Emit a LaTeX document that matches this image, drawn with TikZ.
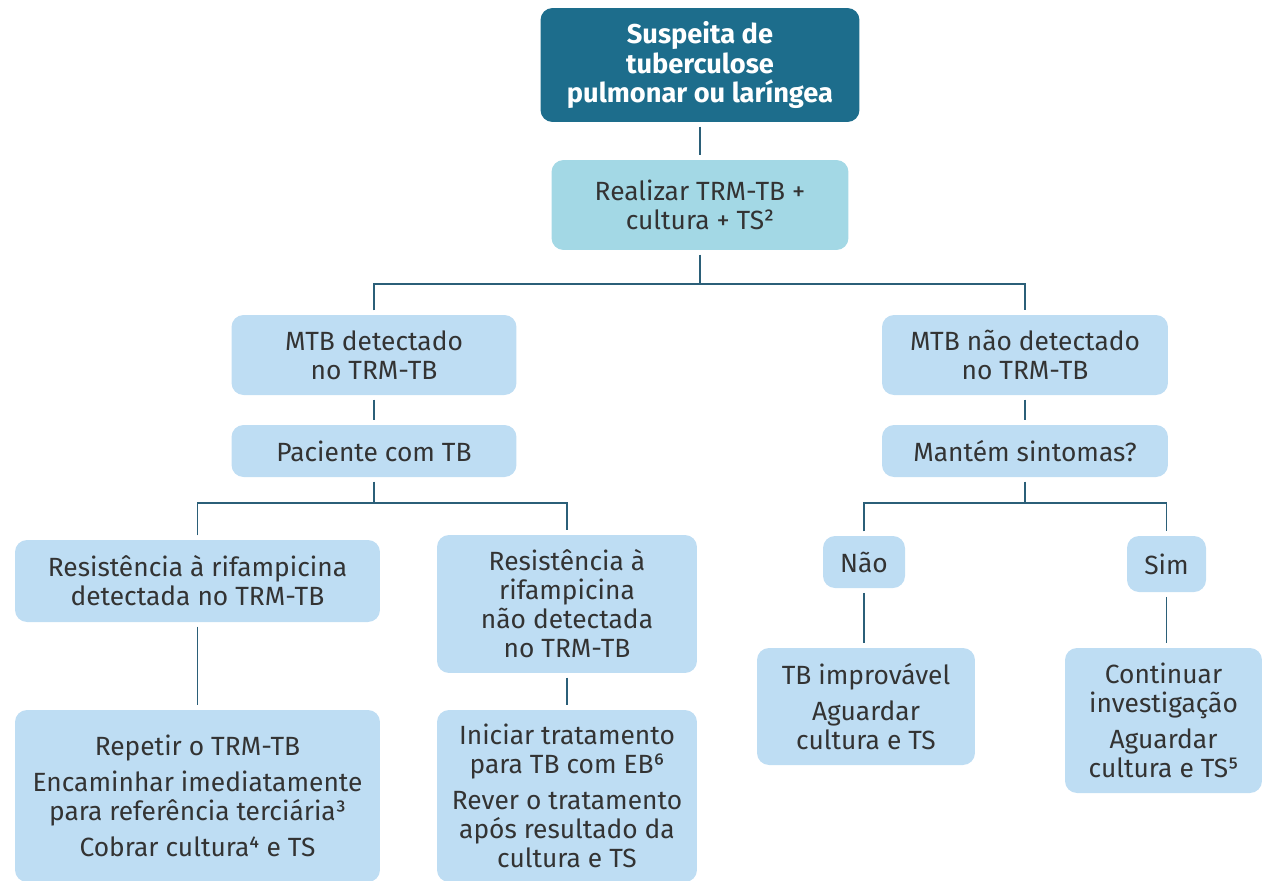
\documentclass[tikz,border=0pt]{standalone}
\usepackage{fontspec}
\setmainfont{Fira Sans}
\definecolor{azulesc}{HTML}{1D6D8C}
\definecolor{azulagua}{HTML}{A3D8E5}
\definecolor{azulclaro}{HTML}{BEDDF3}
\definecolor{linha}{HTML}{2B5F78}
\definecolor{texto}{HTML}{333333}
\tikzset{
	caixa/.style={rectangle,rounded corners=0.24cm,fill=azulclaro,text=texto,align=center,
		inner sep=0pt,font=\fontsize{15}{16.5}\selectfont},
	ligacao/.style={color=linha,line width=1.1pt,shorten <=2.5pt,shorten >=2.5pt},
}
\begin{document}
\begin{tikzpicture}[x=0.02cm,y=-0.02cm]
		\useasboundingbox (0,0) rectangle (1278,880);
		% Caixas
		\node[caixa,fill=azulesc,text=white,font=\bfseries\fontsize{15.5}{17}\selectfont,minimum width=6.38cm,minimum height=2.28cm] (suspeita) at (700,65) {Suspeita de\\tuberculose\\pulmonar ou laríngea};
		\node[caixa,fill=azulagua,minimum width=5.94cm,minimum height=1.8cm] (realizar) at (700,205) {Realizar TRM-TB +\\cultura + TS²};
		\node[caixa,minimum width=5.7cm,minimum height=1.6cm] (mtbd) at (374,355) {MTB detectado\\no TRM-TB};
		\node[caixa,minimum width=5.72cm,minimum height=1.6cm] (mtbn) at (1025,355) {MTB não detectado\\no TRM-TB};
		\node[caixa,minimum width=5.7cm,minimum height=1.04cm] (paciente) at (374,451) {Paciente com TB};
		\node[caixa,minimum width=5.72cm,minimum height=1.04cm] (mantem) at (1025,451) {Mantém sintomas?};
		\node[caixa,minimum width=7.3cm,minimum height=1.64cm] (resdet) at (197.5,581) {Resistência à rifampicina\\detectada no TRM-TB};
		\node[caixa,minimum width=5.2cm,minimum height=2.76cm] (resnao) at (567,604) {Resistência à\\rifampicina\\não detectada\\no TRM-TB};
		\node[caixa,minimum width=7.3cm,minimum height=3.44cm] (repetir) at (197.5,796) {Repetir o TRM-TB\\[4pt]Encaminhar imediatamente\\para referência terciária³\\[4pt]Cobrar cultura⁴ e TS};
		\node[caixa,minimum width=5.2cm,minimum height=3.44cm] (iniciar) at (567,796) {Iniciar tratamento\\para TB com EB⁶\\[4pt]Rever o tratamento\\após resultado da\\cultura e TS};
		\node[caixa,minimum width=1.64cm,minimum height=1.04cm] (nao) at (864,562) {Não};
		\node[caixa,minimum width=1.58cm,minimum height=1.12cm] (sim) at (1166.5,564) {Sim};
		\node[caixa,minimum width=4.36cm,minimum height=2.34cm] (improvavel) at (866,706.5) {TB improvável\\[4pt]Aguardar\\cultura e TS};
		\node[caixa,minimum width=3.94cm,minimum height=2.9cm] (continuar) at (1163.5,720.5) {Continuar\\investigação\\[4pt]Aguardar\\cultura e TS⁵};

		% Ligacoes
		\coordinate (j1) at (700,284);
		\coordinate (j2) at (374,503);
		\coordinate (j3) at (1025,503);
		\draw[ligacao] (suspeita.south) -- (suspeita.south |- realizar.north);
		\draw[ligacao,shorten >=0pt] (realizar.south) -- (j1);
		\draw[ligacao] (mtbd.north) -- (mtbd.north |- j1) -- (mtbn.north |- j1) -- (mtbn.north);
		\draw[ligacao] (mtbd.south) -- (paciente.north);
		\draw[ligacao] (mtbn.south) -- (mantem.north);
		\draw[ligacao,shorten >=0pt] (paciente.south) -- (j2);
		\draw[ligacao,shorten >=0pt] (mantem.south) -- (j3);
		\draw[ligacao] (resdet.north) -- (resdet.north |- j2) -- (resnao.north |- j2) -- (resnao.north);
		\draw[ligacao] (nao.north) -- (nao.north |- j3) -- (sim.north |- j3) -- (sim.north);
		\draw[ligacao] (resdet.south) -- (repetir.north);
		\draw[ligacao] (resnao.south) -- (iniciar.north);
		\draw[ligacao] (nao.south) -- (nao.south |- improvavel.north);
		\draw[ligacao] (sim.south) -- (sim.south |- continuar.north);
\end{tikzpicture}
\end{document}
